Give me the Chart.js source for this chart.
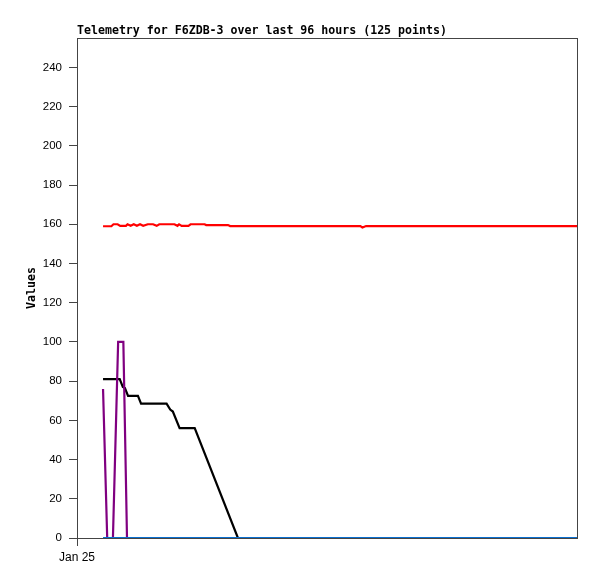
<!DOCTYPE html>
<html>
<head>
<meta charset="utf-8">
<script src="https://cdn.jsdelivr.net/npm/chart.js@4/dist/chart.umd.min.js"></script>
<style>
    html, body { margin: 0; padding: 0; background: #fff; }
    #wrap { width: 597px; height: 579px; }
</style>
</head>
<body>
<div id="wrap"><canvas id="chart"></canvas></div>
<script>
// Время в часах от начала оси (Jan 25), значения читаются с картинки
const titleText = 'Telemetry for F6ZDB-3 over last 96 hours (125 points)';
const yTitle = 'Values';
const xTickLabel = 'Jan 25';

const redHours = [5.0, 6.6, 7.0, 7.8, 8.3, 9.4, 9.7, 10.3, 10.9, 11.5, 12.1, 12.7, 13.6, 14.6, 15.3, 15.8, 18.7, 19.3, 19.6, 20.1, 21.4, 21.8, 24.5, 24.8, 29.0, 29.4, 54.4, 54.8, 55.5, 96];
const redValues = [159.0, 159.0, 160.0, 160.0, 159.2, 159.2, 160.0, 159.2, 160.0, 159.2, 160.0, 159.2, 160.0, 160.0, 159.2, 160.0, 160.0, 159.2, 160.0, 159.2, 159.2, 160.0, 160.0, 159.6, 159.6, 159.1, 159.1, 158.4, 159.1, 159.1];

const blueHours = [5.0, 96];
const blueValues = [0, 0];

const purpleHours = [5.0, 5.8, 6.9, 7.9, 8.9, 9.6, 96];
const purpleValues = [76, 0, 0, 100, 100, 0, 0];

const blackHours = [5.0, 8.2, 8.8, 9.2, 9.8, 11.7, 12.3, 17.2, 17.9, 18.4, 19.7, 22.6, 30.9, 96];
const blackValues = [81, 81, 77, 76.5, 72.5, 72.5, 68.5, 68.5, 65.5, 64.5, 56, 56, 0, 0];

// Сборка точек серии
function toPoints(hours, values) {
    return hours.map((h, i) => ({ x: h, y: values[i] }));
}

function series(hours, values, color) {
    return {
        data: toPoints(hours, values),
        borderColor: color,
        borderWidth: 2.2,
        pointRadius: 0,
        tension: 0,
        fill: false
    };
}

// Рамка области графика, заголовок и подпись оси Y
const frame = {
    id: 'frame',
    beforeDatasetsDraw(chart) {
        const { ctx, chartArea: a } = chart;
        ctx.save();
        ctx.strokeStyle = '#444';
        ctx.lineWidth = 1;
        ctx.strokeRect(a.left + 0.5, a.top + 0.5, a.right - a.left, a.bottom - a.top);
        ctx.restore();
    },
    afterDraw(chart) {
        const { ctx, chartArea: a } = chart;
        ctx.save();
        ctx.fillStyle = '#000';
        ctx.font = 'bold 11.6px "DejaVu Sans Mono"';
        ctx.textAlign = 'left';
        ctx.textBaseline = 'alphabetic';
        ctx.fillText(titleText, a.left, a.top - 4);

        ctx.translate(32, (a.top + a.bottom) / 2);
        ctx.rotate(-Math.PI / 2);
        ctx.textAlign = 'center';
        ctx.textBaseline = 'middle';
        ctx.fillText(yTitle, 0, 0);
        ctx.restore();
    }
};

new Chart(document.getElementById('chart'), {
    type: 'line',
    data: {
        datasets: [
            series(redHours, redValues, '#ff0000'),
            series(blueHours, blueValues, '#0a6fd0'),
            series(purpleHours, purpleValues, '#800080'),
            series(blackHours, blackValues, '#000000')
        ]
    },
    options: {
        responsive: true,
        maintainAspectRatio: false,
        animation: false,
        layout: { padding: { top: 38, right: 20, left: 0, bottom: 0 } },
        plugins: {
            legend: { display: false },
            tooltip: { enabled: false }
        },
        scales: {
            x: {
                type: 'linear',
                min: 0,
                max: 96,
                afterFit(scale) { scale.height = 41; },
                afterBuildTicks(scale) { scale.ticks = [{ value: 0 }]; },
                grid: { drawOnChartArea: false, drawTicks: true, tickLength: 8, color: '#444' },
                border: { display: true, color: '#444' },
                ticks: {
                    color: '#000',
                    font: { family: 'Liberation Sans', size: 12 },
                    padding: 4,
                    maxRotation: 0,
                    callback: () => xTickLabel
                }
            },
            y: {
                min: 0,
                max: 255,
                afterFit(scale) { scale.width = 77; },
                grid: { drawOnChartArea: false, drawTicks: true, tickLength: 8, color: '#444' },
                border: { display: true, color: '#444' },
                ticks: {
                    stepSize: 20,
                    includeBounds: false,
                    color: '#000',
                    padding: 7,
                    font: { family: 'Liberation Sans', size: 11.5 }
                }
            }
        }
    },
    plugins: [frame]
});
</script>
</body>
</html>
